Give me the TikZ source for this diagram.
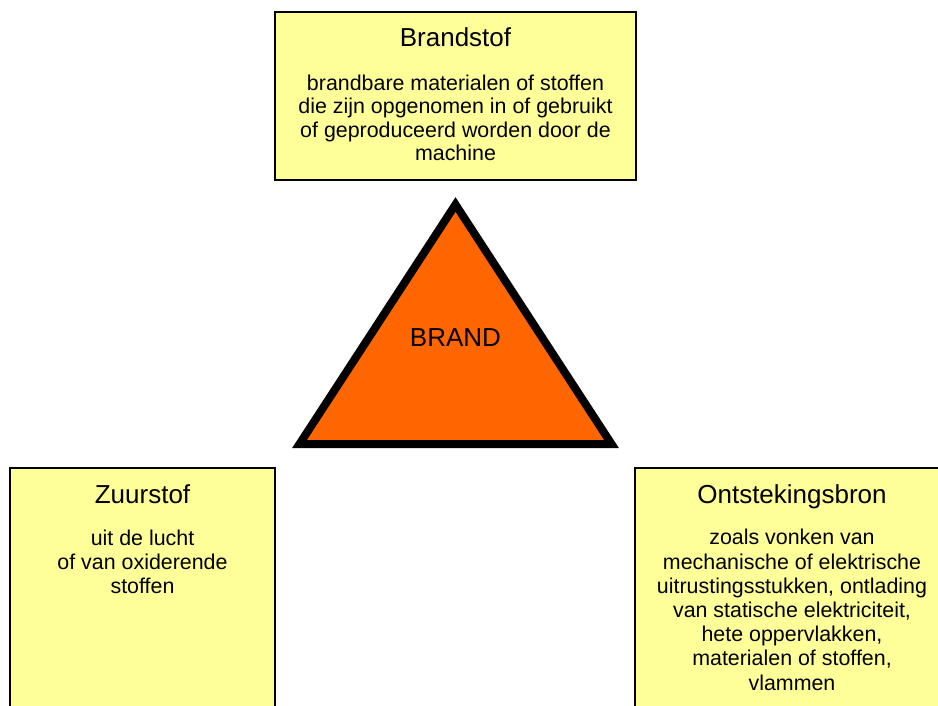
\documentclass[tikz,border=0pt]{standalone}
\usepackage{fontspec}
\setmainfont{Liberation Sans}
\definecolor{boxyellow}{HTML}{FFFF99}
\definecolor{fireorange}{HTML}{FF6600}
\begin{document}
\begin{tikzpicture}[x=1pt,y=-1pt,
  box/.style={draw=black, line width=2pt, fill=boxyellow, inner sep=0pt},
  boxtitle/.style={font=\fontsize{26}{30}\selectfont, anchor=base, inner sep=0pt},
  boxbody/.style={font=\fontsize{21.4}{24.2}\selectfont, align=center, anchor=base, inner sep=0pt},
  fire/.style={draw=black, line width=8pt, line join=miter, fill=fireorange}
]
\useasboundingbox (0,0) rectangle (938,705);
\clip (0,0) rectangle (938,705);
% boxes
\node[box, minimum width=361pt, minimum height=168pt] (brandstof) at (455.5,96) {};
\node[box, minimum width=265pt, minimum height=260pt] (zuurstof) at (142.5,598) {};
\node[box, minimum width=314pt, minimum height=260pt] (ontsteking) at (792,598) {};
% box texts (base anchor = baseline of last line)
\node[boxtitle] (t1) at (455.5,46.7) {Brandstof};
\node[boxbody, font=\fontsize{21.4}{23.4}\selectfont] (b1) at (455.5,160.5) {brandbare materialen of stoffen\\die zijn opgenomen in of gebruikt\\of geproduceerd worden door de\\machine};
\node[boxtitle] (t2) at (142.5,503.3) {Zuurstof};
\node[boxbody] (b2) at (142.5,593.5) {uit de lucht\\of van oxiderende\\stoffen};
\node[boxtitle] (t3) at (792,503.3) {Ontstekingsbron};
\node[boxbody] (b3) at (792,690) {zoals vonken van\\mechanische of elektrische\\uitrustingsstukken, ontlading\\van statische elektriciteit,\\hete oppervlakken,\\materialen of stoffen,\\vlammen};
% fire triangle
\coordinate (apex) at (455.5,204.5);
\coordinate (bl) at (299.5,444);
\coordinate (br) at (611.5,444);
\draw[fire] (apex) -- (br) -- (bl) -- cycle;
\node[font=\fontsize{26}{30}\selectfont, anchor=base, inner sep=0pt] (brand) at (455.5,346.7) {BRAND};
\end{tikzpicture}
\end{document}
